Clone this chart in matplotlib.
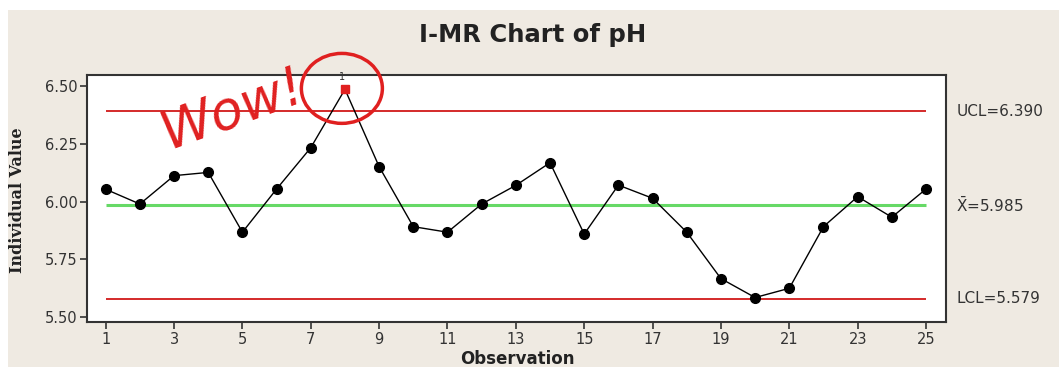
import matplotlib
matplotlib.use("Agg")
import matplotlib.pyplot as plt
from matplotlib.patches import Ellipse, Rectangle

# ---- data ----
observations = list(range(1, 26))
ph_values = [6.053, 5.989, 6.112, 6.126, 5.867, 6.054, 6.233, 6.486, 6.151, 5.891,
             5.867, 5.989, 6.070, 6.168, 5.859, 6.071, 6.014, 5.867, 5.666, 5.584,
             5.624, 5.891, 6.021, 5.932, 6.054]
ucl = 6.390
center = 5.985
lcl = 5.579
out_of_control = [8]
x_ticks = list(range(1, 26, 2))
y_ticks = [5.50, 5.75, 6.00, 6.25, 6.50]
y_ticklabels = ["5.50", "5.75", "6.00", "6.25", "6.50"]
limit_labels = ["UCL=6.390", r"$\bar{\mathrm{X}}$=5.985", "LCL=5.579"]

bg = "#EFEAE2"
txt = "#333333"

fig = plt.figure(figsize=(10.59, 3.67), dpi=100, facecolor="white")
fig.add_artist(Rectangle((8 / 1059, 0), 1, 1 - 10 / 367, transform=fig.transFigure,
                         facecolor=bg, edgecolor="none", zorder=-10))

ax = fig.add_axes([87 / 1059, 1 - 322 / 367, (946 - 87) / 1059, (322 - 75) / 367])
ax.set_zorder(2)
ax.set_facecolor("white")

# control lines
ax.hlines([ucl, lcl], observations[0], observations[-1], colors="#D42A2A", lw=1.4, zorder=2)
ax.hlines(center, observations[0], observations[-1], colors="#66D966", lw=2.2, zorder=2)

# data
ax.plot(observations, ph_values, color="black", lw=1.0, zorder=3)
normal_x = [o for o in observations if o not in out_of_control]
normal_y = [v for o, v in zip(observations, ph_values) if o not in out_of_control]
ax.plot(normal_x, normal_y, "o", color="black", ms=7, zorder=4)
ooc_y = [ph_values[o - 1] for o in out_of_control]
ax.plot(out_of_control, ooc_y, "s", color="#E02020", ms=6, zorder=5)
for o, v in zip(out_of_control, ooc_y):
    ax.annotate("1", (o, v), xytext=(-2, 5), textcoords="offset points",
                fontsize=7, color=txt, ha="center", va="bottom", annotation_clip=False)

ax.set_xlim(0.453, 25.585)
ax.set_ylim(5.478, 6.548)
ax.set_xticks(x_ticks)
ax.set_yticks(y_ticks)
ax.set_yticklabels(y_ticklabels)
ax.tick_params(direction="out", length=5, width=1.2, colors=txt, labelsize=10.5, pad=2)
for s in ax.spines.values():
    s.set_color("#333333")
    s.set_linewidth(1.5)

# right-hand labels
for val, lab in zip([ucl, center, lcl], limit_labels):
    ax.text(1.012, val, lab, transform=ax.get_yaxis_transform(), fontsize=11,
            color=txt, va="center", ha="left")

# annotation: ellipse and Wow!
ell = Ellipse((7.91, 6.49), width=2.37, height=0.303, fill=False, edgecolor="#E02020",
              lw=2.5, clip_on=False, zorder=6)
ax.add_patch(ell)
ax.text(4.72, 6.40, "Wow!", color="#E02020", fontsize=38, fontstyle="italic",
        family="DejaVu Sans", rotation=20,
        ha="center", va="center", zorder=6, clip_on=False)

fig.text(533 / 1059, 1 - 35 / 367, "I-MR Chart of pH", fontsize=17.5, fontweight="bold",
         color="#222222", ha="center", va="center")
fig.text(18 / 1059, 1 - 200 / 367, "Individual Value", fontsize=11.5, fontweight="bold",
         family="DejaVu Serif", color="#222222", rotation=90, ha="center", va="center")
fig.text(517 / 1059, 1 - 350 / 367, "Observation", fontsize=12, fontweight="bold",
         color="#222222", ha="center", va="top")

fig.savefig("out.png", dpi=100, facecolor=fig.get_facecolor())
